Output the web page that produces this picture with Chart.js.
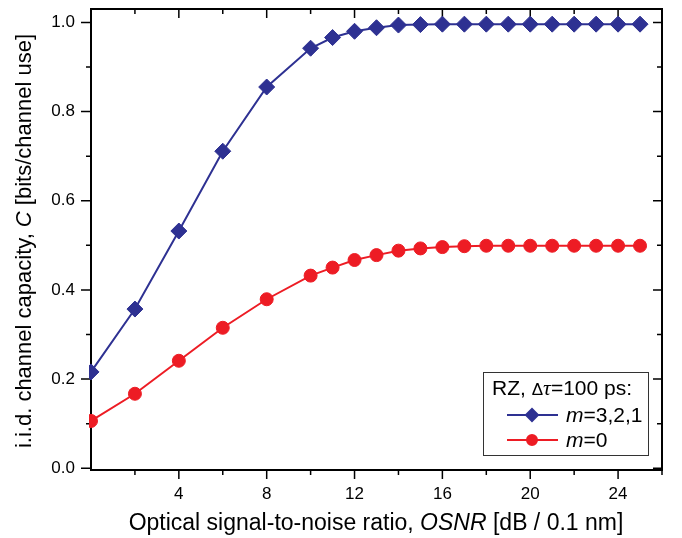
<!DOCTYPE html>
<html>
<head>
<meta charset="utf-8">
<script src="https://cdn.jsdelivr.net/npm/chart.js@4"></script>
<style>
html, body { margin: 0; padding: 0; background: #fff; }
</style>
</head>
<body>
<canvas id="capChart" width="682" height="538"></canvas>
<script>
// OSNR in dB / 0.1 nm
const osnr = [0, 2, 4, 6, 8, 10, 11, 12, 13, 14, 15, 16, 17, 18, 19, 20, 21, 22, 23, 24, 25];
// i.i.d. capacity, m = 3,2,1
const capM321 = [0.216, 0.357, 0.532, 0.711, 0.855, 0.942, 0.966, 0.980, 0.988, 0.994, 0.995,
    0.996, 0.996, 0.996, 0.996, 0.996, 0.996, 0.996, 0.996, 0.996, 0.996];
// i.i.d. capacity, m = 0
const capM0 = [0.106, 0.167, 0.241, 0.315, 0.379, 0.432, 0.450, 0.467, 0.478, 0.488, 0.493,
    0.496, 0.498, 0.499, 0.499, 0.499, 0.499, 0.499, 0.499, 0.499, 0.499];

const xTickLabels = [4, 8, 12, 16, 20, 24];
const yTickLabels = [0, 0.2, 0.4, 0.6, 0.8, 1.0];
const xTickMarks = [2, 4, 6, 8, 10, 12, 14, 16, 18, 20, 22, 24, 26];
const yTickMarks = [0, 0.1, 0.2, 0.3, 0.4, 0.5, 0.6, 0.7, 0.8, 0.9, 1.0];

const BLUE = '#2e3192';
const RED = '#ed1c24';
const FONT = '"Liberation Sans", Arial, sans-serif';

function pairs(xs, ys) {
    return xs.map((v, i) => ({ x: v, y: ys[i] }));
}

function drawRuns(ctx, runs, x, y, center) {
    let total = 0;
    runs.forEach(r => {
        ctx.font = r.font;
        r.w = ctx.measureText(r.text).width;
        total += r.w;
    });
    let cx = center ? x - total / 2 : x;
    runs.forEach(r => {
        ctx.font = r.font;
        ctx.fillText(r.text, cx, y);
        cx += r.w;
    });
}

// box + mirrored ticks like the Origin plot
const framePlugin = {
    id: 'frame',
    beforeDatasetsDraw(chart) {
        const { ctx, chartArea: a, scales: { x, y } } = chart;
        ctx.save();
        ctx.strokeStyle = '#000';
        ctx.lineWidth = 2;
        ctx.strokeRect(a.left, a.top, a.right - a.left, a.bottom - a.top);
        ctx.lineWidth = 1.5;
        ctx.beginPath();
        xTickMarks.forEach(v => {
            const px = x.getPixelForValue(v);
            const len = v % 4 === 0 ? 9 : 5;
            ctx.moveTo(px, a.bottom); ctx.lineTo(px, a.bottom + len);
            ctx.moveTo(px, a.top); ctx.lineTo(px, a.top + len);
        });
        yTickMarks.forEach((v, i) => {
            const py = y.getPixelForValue(v);
            const major = i % 2 === 0;
            ctx.moveTo(a.left, py); ctx.lineTo(a.left - (major ? 10 : 5), py);
            ctx.moveTo(a.right, py); ctx.lineTo(a.right - (major ? 9 : 5), py);
        });
        ctx.stroke();
        ctx.restore();
    }
};

const titlePlugin = {
    id: 'axisTitles',
    afterDraw(chart) {
        const { ctx } = chart;
        ctx.save();
        ctx.fillStyle = '#000';
        ctx.textBaseline = 'alphabetic';
        ctx.textAlign = 'left';
        drawRuns(ctx, [
            { text: 'Optical signal-to-noise ratio, ', font: '23px ' + FONT },
            { text: 'OSNR', font: 'italic 23px ' + FONT },
            { text: ' [dB / 0.1 nm]', font: '23px ' + FONT }
        ], 376, 530, true);

        ctx.translate(31, 241);
        ctx.rotate(-Math.PI / 2);
        drawRuns(ctx, [
            { text: 'i.i.d. channel capacity, ', font: '22px ' + FONT },
            { text: 'C', font: 'italic 22px ' + FONT },
            { text: ' [bits/channel use]', font: '22px ' + FONT }
        ], 0, 0, true);
        ctx.restore();
    }
};

const legendPlugin = {
    id: 'boxLegend',
    afterDraw(chart) {
        const { ctx, chartArea: a } = chart;
        const right = a.right - 14, bottom = a.bottom - 15;
        const w = 165, h = 83;
        const left = right - w, top = bottom - h;
        ctx.save();
        ctx.fillStyle = '#fff';
        ctx.fillRect(left, top, w, h);
        ctx.strokeStyle = '#333';
        ctx.lineWidth = 1;
        ctx.strokeRect(left + 0.5, top + 0.5, w, h);

        ctx.fillStyle = '#000';
        ctx.textBaseline = 'alphabetic';
        drawRuns(ctx, [
            { text: 'RZ, ', font: '21px ' + FONT },
            { text: '\u0394', font: '17px ' + FONT },
            { text: '\u03c4', font: 'italic 22px "Liberation Serif", serif' },
            { text: '=100 ps:', font: '21px ' + FONT }
        ], left + 9, top + 23, false);

        const rows = [
            { color: BLUE, style: 'rectRot', r: 6, label: '3,2,1', y: top + 43 },
            { color: RED, style: 'circle', r: 5, label: '0', y: top + 68 }
        ];
        rows.forEach(row => {
            ctx.strokeStyle = row.color;
            ctx.lineWidth = 2;
            ctx.beginPath();
            ctx.moveTo(left + 24, row.y);
            ctx.lineTo(left + 75, row.y);
            ctx.stroke();
            ctx.fillStyle = row.color;
            Chart.helpers.drawPoint(ctx, { pointStyle: row.style, radius: row.r, rotation: 0, borderWidth: 1 },
                left + 49, row.y);
            ctx.fillStyle = '#000';
            drawRuns(ctx, [
                { text: 'm', font: 'italic 21px ' + FONT },
                { text: '=' + row.label, font: '21px ' + FONT }
            ], left + 83, row.y + 7, false);
        });
        ctx.restore();
    }
};

const ctx = document.getElementById('capChart').getContext('2d');
const capChart = new Chart(ctx, {
    type: 'line',
    data: {
        datasets: [{
            label: 'm=3,2,1',
            data: pairs(osnr, capM321),
            borderColor: BLUE,
            backgroundColor: BLUE,
            borderWidth: 2,
            pointStyle: 'rectRot',
            pointRadius: 8,
            pointBorderWidth: 1,
            tension: 0,
            clip: { left: 2, right: 10, top: 10, bottom: 10 },
        }, {
            label: 'm=0',
            data: pairs(osnr, capM0),
            borderColor: RED,
            backgroundColor: RED,
            borderWidth: 2,
            pointStyle: 'circle',
            pointRadius: 6.5,
            pointBorderWidth: 1,
            tension: 0,
            clip: { left: 2, right: 10, top: 10, bottom: 10 },
        }],
    },
    options: {
        responsive: false,
        animation: false,
        devicePixelRatio: 1,
        layout: {
            padding: { left: 0, right: 20, top: 7, bottom: 0 },
        },
        plugins: {
            legend: { display: false },
            tooltip: { enabled: false },
        },
        scales: {
            x: {
                type: 'linear',
                min: 0,
                max: 26,
                grid: { display: false, drawTicks: false },
                border: { display: false },
                ticks: {
                    color: '#000',
                    font: { family: FONT, size: 17 },
                    padding: 14,
                    maxRotation: 0,
                },
                afterBuildTicks: s => { s.ticks = xTickLabels.map(v => ({ value: v })); },
                afterFit: s => { s.height = 68; s.paddingLeft = 0; s.paddingRight = 0; },
            },
            y: {
                min: -0.004,
                max: 1.03,
                grid: { display: false, drawTicks: false },
                border: { display: false },
                ticks: {
                    color: '#000',
                    font: { family: FONT, size: 17 },
                    padding: 16,
                    callback: v => v.toFixed(1),
                },
                afterBuildTicks: s => { s.ticks = yTickLabels.map(v => ({ value: v })); },
                afterFit: s => { s.width = 91; s.paddingTop = 0; s.paddingBottom = 0; },
            },
        },
    },
    plugins: [framePlugin, titlePlugin, legendPlugin],
});
</script>
</body>
</html>
